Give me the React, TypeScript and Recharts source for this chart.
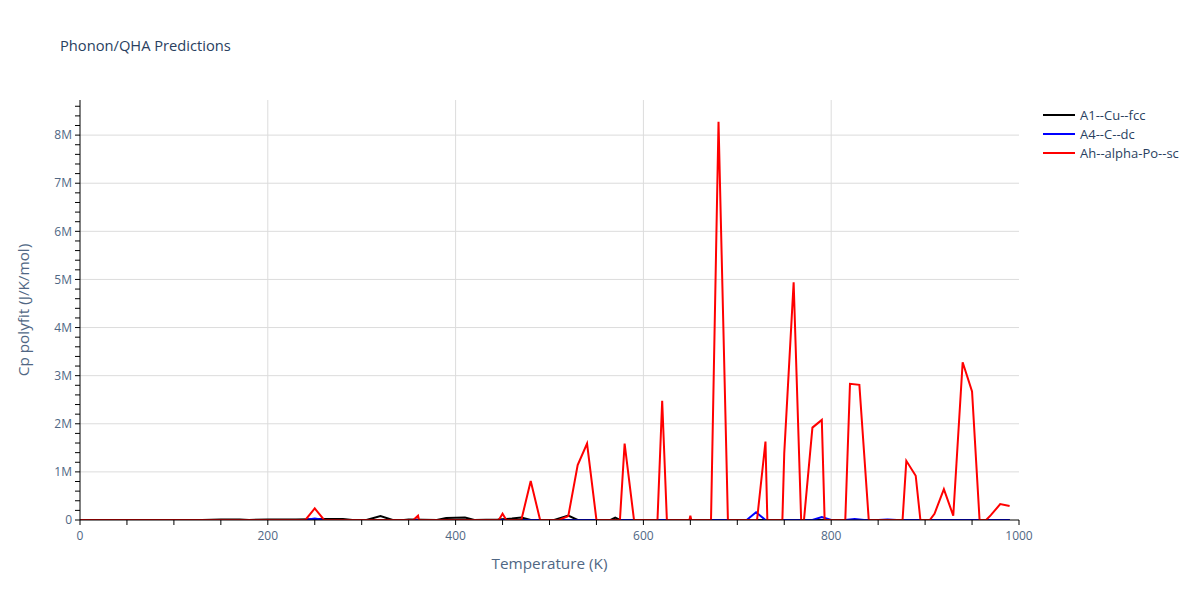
import React from 'react';
import { LineChart, Line, XAxis, YAxis, CartesianGrid } from 'recharts';

// ---- data (temperature in K, Cp in J/K/mol) ----
const cuT = [0, 130, 150, 170, 180, 200, 230, 260, 280, 290, 305, 320, 333, 345, 350, 380, 390, 410, 420, 445, 460, 470, 480, 505, 520, 530, 565, 570, 575, 990];
const cuCp = [0, 0, 0.01e6, 0.01e6, 0, 0.01e6, 0.01e6, 0.02e6, 0.02e6, 0, 0, 0.08e6, 0, 0, 0.01e6, 0, 0.04e6, 0.05e6, 0, 0.01e6, 0.03e6, 0.05e6, 0, 0, 0.09e6, 0, 0, 0.05e6, 0, 0];

const cT = [0, 240, 250, 260, 710, 720, 730, 780, 790, 800, 815, 825, 835, 850, 860, 870, 980, 990];
const cCp = [0, 0, 0.03e6, 0, 0, 0.16e6, 0, 0, 0.06e6, 0, 0, 0.02e6, 0, 0, 0.01e6, 0, 0, 0];

const poT = [0, 240, 250, 260, 355, 360, 361, 446, 450, 454, 470, 480, 490, 510, 520, 530, 540, 550, 575, 580, 590, 615, 620, 625, 649, 650, 651, 672, 680, 690, 721, 730, 732, 748, 750, 760, 768, 771, 780, 790, 793, 815, 820, 830, 840, 876, 880, 890, 895, 905, 910, 920, 930, 940, 950, 958, 965, 970, 980, 990];
const poCp = [0, 0, 0.24e6, 0, 0, 0.09e6, 0, 0, 0.13e6, 0, 0, 0.81e6, 0, 0, 0.08e6, 1.14e6, 1.59e6, 0, 0, 1.59e6, 0, 0, 2.48e6, 0, 0, 0.09e6, 0, 0, 8.28e6, 0, 0, 1.63e6, 0, 0, 1.39e6, 4.94e6, 0, 0, 1.92e6, 2.08e6, 0, 0, 2.83e6, 2.81e6, 0, 0, 1.23e6, 0.92e6, 0, 0, 0.13e6, 0.64e6, 0.09e6, 3.28e6, 2.67e6, 0, 0, 0.1e6, 0.33e6, 0.29e6];

const seriesNames = ['A1--Cu--fcc', 'A4--C--dc', 'Ah--alpha-Po--sc'];
const seriesColors = ['#000000', '#0000ff', '#ff0000'];

const xTicks = [0, 50, 100, 150, 200, 250, 300, 350, 400, 450, 500, 550, 600, 650, 700, 750, 800, 850, 900, 950, 1000];
const xLabelled = [0, 200, 400, 600, 800, 1000];
const xGrid = [200, 400, 600, 800];
const yTicks = [0, 0.2e6, 0.4e6, 0.6e6, 0.8e6, 1e6, 1.2e6, 1.4e6, 1.6e6, 1.8e6, 2e6, 2.2e6, 2.4e6, 2.6e6, 2.8e6, 3e6, 3.2e6, 3.4e6, 3.6e6, 3.8e6, 4e6, 4.2e6, 4.4e6, 4.6e6, 4.8e6, 5e6, 5.2e6, 5.4e6, 5.6e6, 5.8e6, 6e6, 6.2e6, 6.4e6, 6.6e6, 6.8e6, 7e6, 7.2e6, 7.4e6, 7.6e6, 7.8e6, 8e6, 8.2e6, 8.4e6, 8.6e6];
const yLabelled = [0, 1e6, 2e6, 3e6, 4e6, 5e6, 6e6, 7e6, 8e6];
const yGrid = [1e6, 2e6, 3e6, 4e6, 5e6, 6e6, 7e6, 8e6];

const toRows = (ts: number[], vs: number[]) => ts.map((t, i) => ({ T: t, Cp: vs[i] }));
const seriesData = [toRows(cuT, cuCp), toRows(cT, cCp), toRows(poT, poCp)];

const FONT = '"Open Sans", verdana, arial, sans-serif';
const TXT = '#2a3f5f';
const TICK = '#506784';

const fmtX = (v: number) => (xLabelled.includes(v) ? String(v) : '');
const fmtY = (v: number) => {
  const r = Math.round(v);
  if (!yLabelled.includes(r)) return '';
  return r === 0 ? '0' : `${r / 1e6}M`;
};

export default function App() {
  return (
    <div style={{ position: 'absolute', left: 0, top: 0, width: 1200, height: 600, background: '#fff' }}>
      <div style={{ position: 'absolute', left: 60, top: 35, fontFamily: FONT, fontSize: 14.7, color: TXT }}>
        Phonon/QHA Predictions
      </div>
      <LineChart width={1200} height={600} margin={{ top: 100, right: 181, bottom: 0, left: 0 }}>
        <CartesianGrid stroke="#dcdcdc" strokeWidth={1} horizontalValues={yGrid} verticalValues={xGrid} />
        <XAxis
          type="number"
          dataKey="T"
          domain={[0, 1000]}
          ticks={xTicks}
          tickFormatter={fmtX}
          interval={0}
          height={80}
          tickSize={5}
          tickMargin={6}
          stroke="#000"
          tick={{ fill: TICK, fontSize: 12, fontFamily: FONT }}
          allowDataOverflow
          label={{ value: 'Temperature (K)', position: 'insideBottom', offset: 31, fill: TICK, fontSize: 15.3, fontFamily: FONT }}
        />
        <YAxis
          type="number"
          domain={[0, 8.73e6]}
          ticks={yTicks}
          tickFormatter={fmtY}
          interval={0}
          width={80}
          tickSize={5}
          tickMargin={3}
          stroke="#000"
          tick={{ fill: TICK, fontSize: 12, fontFamily: FONT }}
          allowDataOverflow
          label={{ value: 'Cp polyfit (J/K/mol)', angle: -90, position: 'insideLeft', offset: 24, fill: TICK, fontSize: 15.3, fontFamily: FONT, style: { textAnchor: 'middle' } }}
        />
        {seriesData.map((d, i) => (
          <Line
            key={seriesNames[i]}
            data={d}
            dataKey="Cp"
            name={seriesNames[i]}
            stroke={seriesColors[i]}
            strokeWidth={2}
            dot={false}
            activeDot={false}
            type="linear"
            isAnimationActive={false}
          />
        ))}
      </LineChart>
      <div style={{ position: 'absolute', left: 1043, top: 105, fontFamily: FONT, fontSize: 13, color: TXT }}>
        {seriesNames.map((n, i) => (
          <div key={n} style={{ display: 'flex', alignItems: 'center', height: 19 }}>
            <div style={{ width: 32, height: 2, background: seriesColors[i], marginRight: 5 }} />
            <span>{n}</span>
          </div>
        ))}
      </div>
    </div>
  );
}
